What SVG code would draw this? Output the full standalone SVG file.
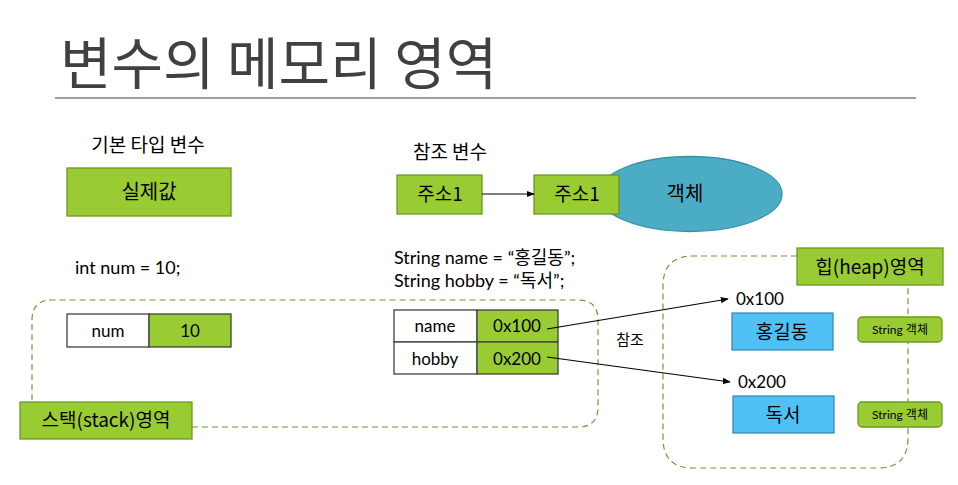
<svg xmlns="http://www.w3.org/2000/svg" width="958" height="485" viewBox="0 0 958 485">
<style>
text{font-family:"Lato","Noto Sans CJK KR",sans-serif;fill:#000}
.kr{font-family:"Noto Sans CJK KR",sans-serif}
.g{fill:#99cc33;stroke:#6b9a23;stroke-width:1.3}
.w{fill:#fff;stroke:#404040;stroke-width:1.3}
.b{fill:#4fc1f5;stroke:#3a8db5;stroke-width:1.3}
.d{fill:none;stroke:#77933c;stroke-width:1.2;stroke-dasharray:6 4}
.c{stroke:#000;stroke-width:1.2;fill:none}
</style>
<defs>
<marker id="ah" viewBox="0 0 10 10" refX="9" refY="5" markerWidth="8" markerHeight="8" orient="auto" markerUnits="userSpaceOnUse"><path d="M0,1 L10,5 L0,9 z" fill="#000"/></marker>
</defs>
<g id="title">
<text x="60" y="84" class="kr" font-size="56" style="fill:#404040">변수의 메모리 영역</text>
<line x1="55" y1="98" x2="916" y2="98" stroke="#808080" stroke-width="1.5"/>
</g>
<g id="primitive-label"><text x="148" y="152" class="kr" font-size="19" text-anchor="middle">기본 타입 변수</text></g>
<g id="actual-value"><rect class="g" x="67" y="168" width="164" height="48"/><text x="149" y="199" class="kr" font-size="20" text-anchor="middle">실제값</text></g>
<g id="int-decl"><text x="75" y="274" font-size="18">int num = 10;</text></g>
<g id="stack-region">
<path class="d" d="M192,427 L578,427 Q598,427 598,407 L598,320 Q598,300 578,300 L52,300 Q32,300 32,320 L32,402"/>
</g>
<g id="num-cell"><rect class="w" x="67" y="314" width="82" height="33"/><text x="108" y="337" font-size="17" text-anchor="middle">num</text></g>
<g id="num-value"><rect class="g" x="149" y="314" width="82" height="33" style="stroke:#404040"/><text x="190" y="337" font-size="17" text-anchor="middle">10</text></g>
<g id="stack-label"><rect class="g" x="20" y="402" width="172" height="37"/><text x="106" y="427" class="kr" font-size="19" text-anchor="middle">스택(stack)영역</text></g>
<g id="ref-label"><text x="450" y="159" class="kr" font-size="19" text-anchor="middle">참조 변수</text></g>
<g id="object"><ellipse cx="690" cy="194" rx="92" ry="37.5" fill="#4bacc6" stroke="#3a8fa8" stroke-width="1.3"/><text x="685" y="201" class="kr" font-size="20" text-anchor="middle">객체</text></g>
<g id="addr1"><rect class="g" x="397" y="175" width="85" height="39"/><text x="440" y="201" class="kr" font-size="19" text-anchor="middle">주소1</text></g>
<g id="addr2"><rect class="g" x="534" y="175" width="85" height="39"/><text x="577" y="201" class="kr" font-size="19" text-anchor="middle">주소1</text></g>
<g id="string-decl">
<text x="394" y="264" font-size="18">String name = “홍길동”;</text>
<text x="394" y="287" font-size="18">String hobby = “독서”;</text>
</g>
<g id="name-cell"><rect class="w" x="394" y="310" width="83" height="32"/><text x="435" y="332" font-size="17" text-anchor="middle">name</text></g>
<g id="name-value"><rect class="g" x="477" y="310" width="81" height="32" style="stroke:#404040"/><text x="517" y="332" font-size="17" text-anchor="middle">0x100</text></g>
<g id="hobby-cell"><rect class="w" x="394" y="342" width="83" height="32"/><text x="435" y="365" font-size="17" text-anchor="middle">hobby</text></g>
<g id="hobby-value"><rect class="g" x="477" y="342" width="81" height="32" style="stroke:#404040"/><text x="517" y="365" font-size="17" text-anchor="middle">0x200</text></g>
<g id="ref-text"><text x="630" y="345" class="kr" font-size="15" text-anchor="middle">참조</text></g>
<g id="heap-region">
<path class="d" d="M797,256 L693,256 Q663,256 663,286 L663,438 Q663,468 693,468 L878,468 Q908,468 908,438 L908,285"/>
</g>
<g id="heap-label"><rect class="g" x="797" y="248" width="146" height="37"/><text x="870" y="274" class="kr" font-size="19" text-anchor="middle">힙(heap)영역</text></g>
<g id="addr-100"><text x="736" y="305" font-size="17">0x100</text></g>
<g id="addr-200"><text x="738" y="388" font-size="17">0x200</text></g>
<g id="obj-hong"><rect class="b" x="732" y="313" width="101" height="37"/><text x="782" y="339" class="kr" font-size="19" text-anchor="middle">홍길동</text></g>
<g id="obj-dokseo"><rect class="b" x="733" y="396" width="101" height="37"/><text x="783" y="422" class="kr" font-size="19" text-anchor="middle">독서</text></g>
<g id="tag1"><rect class="g" x="858" y="317" width="84" height="25" rx="4"/><text x="900" y="334" font-size="12" text-anchor="middle">String 객체</text></g>
<g id="tag2"><rect class="g" x="858" y="402" width="84" height="25" rx="4"/><text x="900" y="419" font-size="12" text-anchor="middle">String 객체</text></g>
<g id="connectors">
<line class="c" x1="482" y1="194" x2="534" y2="194" marker-end="url(#ah)"/>
<line class="c" x1="547" y1="329" x2="728" y2="299" marker-end="url(#ah)"/>
<line class="c" x1="547" y1="357" x2="730" y2="382" marker-end="url(#ah)"/>
</g>
</svg>
